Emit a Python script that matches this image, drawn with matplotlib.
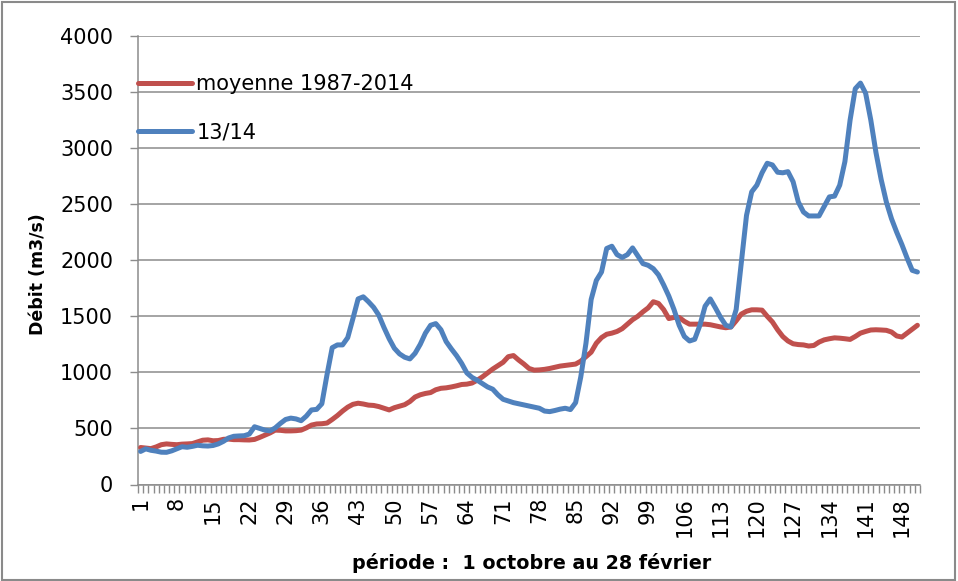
import numpy as np
import matplotlib.pyplot as plt
import matplotlib.ticker as mticker
from matplotlib.patches import Rectangle

# ── Data: daily discharge, 1 Oct -> 28 Feb (151 days) ───────────────────────
days = list(range(1, 152))

moyenne = [
    330, 325, 320, 335, 355, 362, 358, 355, 360, 362,
    365, 380, 395, 398, 390, 392, 403, 405, 400, 400,
    398, 397, 402, 420, 440, 460, 485, 483, 478, 478,
    480, 485, 505, 530, 540, 542, 548, 580, 615, 655,
    690, 715, 725, 718, 708, 705, 695, 680, 665, 685,
    698, 712, 740, 780, 800, 812, 820, 845, 858, 862,
    870, 880, 892, 895, 905, 930, 960, 995, 1030, 1060,
    1090, 1140, 1150, 1110, 1075, 1035, 1020, 1022, 1027, 1035,
    1045, 1056, 1062, 1068, 1074, 1100, 1140, 1180, 1260, 1310,
    1340, 1350, 1365, 1390, 1430, 1470, 1500, 1540, 1575, 1630,
    1615, 1560, 1480, 1490, 1490, 1455, 1430, 1430, 1430, 1430,
    1425, 1415, 1405, 1398, 1405, 1460, 1520, 1545, 1558, 1558,
    1555, 1500, 1450, 1380, 1320, 1280, 1255, 1248, 1245, 1235,
    1240, 1270, 1290, 1300, 1308, 1305, 1300, 1294, 1320, 1350,
    1365, 1378, 1380, 1378, 1375, 1360, 1325, 1315, 1350, 1385,
    1420,
]

saison_13_14 = [
    295, 318, 305, 298, 288, 287, 300, 318, 337, 332,
    340, 350, 345, 343, 348, 362, 385, 415, 430, 433,
    435, 450, 515, 500, 485, 478, 505, 545, 580, 592,
    585, 569, 610, 665, 670, 720, 980, 1220, 1245, 1245,
    1310, 1480, 1655, 1674, 1630, 1580, 1510, 1400, 1300, 1215,
    1165, 1135, 1120, 1170, 1250, 1350, 1420, 1435, 1380, 1275,
    1210, 1150, 1080, 995, 955, 930, 900, 870, 850, 800,
    760, 745, 730, 720, 710, 700, 690, 680, 655, 650,
    660, 672, 680, 668, 730, 960, 1260, 1650, 1820, 1895,
    2105, 2125, 2050, 2025, 2050, 2110, 2040, 1970, 1955, 1925,
    1870, 1780, 1680, 1560, 1420, 1320, 1280, 1295, 1420, 1590,
    1655, 1575, 1490, 1420, 1405, 1560, 1980, 2400, 2610, 2670,
    2780, 2865, 2850, 2785, 2780, 2790, 2700, 2520, 2430, 2395,
    2395, 2395, 2480, 2565, 2572, 2670, 2880, 3250, 3530, 3580,
    3490, 3250, 2960, 2720, 2520, 2370, 2250, 2140, 2020, 1910,
    1895,
]

x_tick_labels = list(range(1, 152, 7))

# ── Style ───────────────────────────────────────────────────────────────────
RED = "#C0504D"
BLUE = "#4F81BD"
GRID = "#8C8C8C"

fig = plt.figure(figsize=(9.58, 5.81), dpi=100)
ax = fig.add_axes([138 / 958, 1 - 484.5 / 581, 782 / 958, 448.5 / 581])

ax.plot(days, moyenne, color=RED, lw=3.6, solid_capstyle="round",
        solid_joinstyle="round", label="moyenne 1987-2014", zorder=3)
ax.plot(days, saison_13_14, color=BLUE, lw=3.6, solid_capstyle="round",
        solid_joinstyle="round", label="13/14", zorder=4)

ax.set_xlim(0.5, 151.5)
ax.set_ylim(0, 4000)
ax.yaxis.set_major_locator(mticker.MultipleLocator(500))
ax.grid(axis="y", color=GRID, lw=1.1)
ax.set_axisbelow(True)

for side in ("top", "right"):
    ax.spines[side].set_visible(False)
for side in ("left", "bottom"):
    ax.spines[side].set_color(GRID)
    ax.spines[side].set_linewidth(1.1)

ax.set_xticks(x_tick_labels)
ax.set_xticklabels([str(v) for v in x_tick_labels], rotation=90, fontsize=15)
ax.set_xticks(np.arange(0.5, 152, 1), minor=True)
ax.tick_params(axis="x", which="major", length=0, pad=9)
ax.tick_params(axis="x", which="minor", length=6, color=GRID, width=1, direction="out")
ax.tick_params(axis="y", which="major", length=6, color=GRID, width=1, labelsize=15, pad=12)

ax.set_ylabel("Débit (m3/s)", fontsize=12.5, fontweight="bold")
ax.yaxis.set_label_coords(-0.117, 0.47)
ax.set_xlabel("période :  1 octobre au 28 février", fontsize=13.8, fontweight="bold")
ax.xaxis.set_label_coords(0.503, -0.153)

ax.legend(loc="upper left", bbox_to_anchor=(0.0, 0.915), frameon=False,
          fontsize=15, handlelength=2.6, handletextpad=0.2, labelspacing=1.35,
          borderpad=0, borderaxespad=0)

fig.patches.append(Rectangle((0.002, 0.002), 0.995, 0.994, transform=fig.transFigure,
                             fill=False, edgecolor="#8A8A8A", lw=1.5))

fig.savefig("out.png", dpi=100)
